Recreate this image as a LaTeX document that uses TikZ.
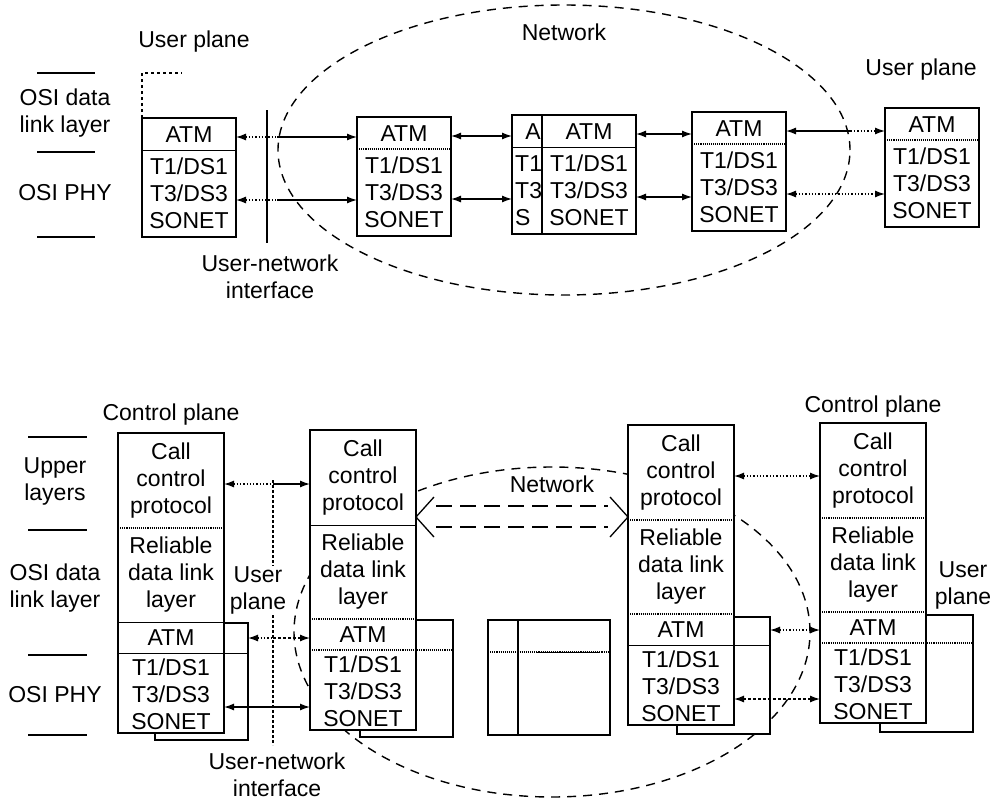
\documentclass[tikz,border=0pt]{standalone}
\usepackage{fontspec}
\setmainfont{Liberation Sans}
\usetikzlibrary{positioning, arrows.meta, shapes.geometric}

\begin{document}
\begin{tikzpicture}[
    x=1pt, y=-1pt,
    lbl/.style={font=\fontsize{23}{27}\selectfont, align=center, inner sep=0pt},
    box/.style={rectangle, draw, line width=1.8pt, fill=white, inner sep=0pt, outer sep=0pt, anchor=north west},
    cloud/.style={ellipse, draw, line width=1.4pt, dash pattern=on 9pt off 7pt, inner sep=0pt},
    netln/.style={line width=1.4pt, dash pattern=on 16pt off 8pt},
    rule/.style={line width=1.3pt},
    dv/.style={line width=1pt},
    dd/.style={line width=1.1pt, densely dotted},
    con/.style={line width=1.3pt},
    arr/.style={con, {Latex[length=10pt,width=7pt]}-{Latex[length=10pt,width=7pt]}},
    arrL/.style={con, {Latex[length=10pt,width=7pt]}-},
    arrR/.style={con, -{Latex[length=10pt,width=7pt]}}
]
\useasboundingbox (0,0) rectangle (999,806);

% user plane, top
\node[cloud, minimum width=572, minimum height=290] (netT) at (564,150) {};
\node[lbl] at ([yshift=-28]netT.north) {Network};
\node[lbl] at (194,42) {User plane};
\node[lbl] at (921,70) {User plane};

\foreach \yy in {73,152,237} \draw[rule] (37,\yy) -- (95,\yy);
\node[lbl] at (65,113) {OSI data\\link layer};
\node[lbl] at (65,193) {OSI PHY};

\node[box, minimum width=94, minimum height=119] (n2) at (512,115) {};
\node[lbl, anchor=east] (n2-atm) at ([xshift=29,yshift=-17]n2.north west) {A};
\node[lbl, anchor=north west, align=left] (n2-phy) at ([xshift=3,yshift=-40]n2.north west) {T1\\T3\\S};
\draw[dv] ([yshift=-32]n2.north west) -- ([yshift=-32]n2.north east);
\coordinate (n2-hi) at ([yshift=-19]n2.north);
\coordinate (n2-lo) at ([yshift=-82]n2.north);

\foreach \n/\x/\y/\ka in {u1/142/118/dv, n1/357/117/dd, n3/542/115/dv, n4/692/112/dd, u2/885/108/dd}{
    \node[box, minimum width=94, minimum height=119] (\n) at (\x,\y) {};
    \node[lbl] (\n-atm) at ([yshift=-17]\n.north) {ATM};
    \node[lbl] (\n-phy) at ([yshift=-75]\n.north) {T1/DS1\\T3/DS3\\SONET};
    \draw[\ka] ([yshift=-32]\n.north west) -- ([yshift=-32]\n.north east);
    \coordinate (\n-hi) at ([yshift=-19]\n.north);
    \coordinate (\n-lo) at ([yshift=-82]\n.north);
}
\draw[dashed, line width=1.2pt] (u1.north west) -- ++(0,-45) -- ++(40,0);

\coordinate (uniT) at (267,110);
\coordinate (uniB) at (267,243);
\draw[line width=1.6pt] (uniT) -- (uniB);
\node[lbl] (uniA) at (270,277) {User-network\\interface};

\draw[arrL, dotted] (u1-hi -| u1.east) -- (u1-hi -| netT.west);
\draw[arrR] (u1-hi -| netT.west) -- (u1-hi -| n1.west);
\draw[arrL, dotted] (u1-lo -| u1.east) -- (u1-lo -| netT.west);
\draw[arrR] (u1-lo -| netT.west) -- (u1-lo -| n1.west);
\draw[arr] (n1-hi -| n1.east) -- (n1-hi -| n2.west);
\draw[arr] (n1-lo -| n1.east) -- (n1-lo -| n2.west);
\draw[arr] (n3-hi -| n3.east) -- (n3-hi -| n4.west);
\draw[arr] (n3-lo -| n3.east) -- (n3-lo -| n4.west);
\draw[arrL] (n4-hi -| n4.east) -- (n4-hi -| netT.east);
\draw[arrR, dotted] (n4-hi -| netT.east) -- (n4-hi -| u2.west);
\draw[arr, dotted] (n4-lo -| n4.east) -- (n4-lo -| u2.west);

% control plane, bottom
\node[cloud, minimum width=516, minimum height=330] (netB) at (552,632) {};

\foreach \yy in {437,530,655,735} \draw[rule] (28,\yy) -- (87,\yy);
\node[lbl] at (55,481) {Upper\\layers};
\node[lbl] at (55,588) {OSI data\\link layer};
\node[lbl] at (55,695) {OSI PHY};

\coordinate (uniC) at (273,480);
\coordinate (uniD) at (273,745);
\draw[line width=1.2pt, densely dashed] (uniC) -- (uniD);
\node[lbl, fill=white] at (258,590) {User\\plane};
\node[lbl] at (277,775) {User-network\\interface};

\foreach \n/\x/\y in {a/155/623, b/360/620, c/677/617, d/880/615}
    \node[box, minimum width=93, minimum height=117] (\n-bk) at (\x,\y) {};

\node[box, minimum width=92, minimum height=115] (m1) at (488,620) {};
\node[box, minimum width=92, minimum height=115] (m2) at (518,620) {};
\draw[dd] ([yshift=-32]m1.north west) -- ([yshift=-32]m2.north east);
\draw[dv] ([xshift=18,yshift=-32]m2.north west) -- ([xshift=-10,yshift=-32]m2.north east);

\foreach \n/\x/\y/\ka/\kb/\kc in {a/118/433/dd/dv/dv, b/310/430/dv/dd/dd, c/628/425/dd/dd/dv, d/820/423/dd/dd/dd}{
    \node[box, minimum width=106, minimum height=300] (\n) at (\x,\y) {};
    \node[lbl] (\n-cc) at ([yshift=-48]\n.north) {Call\\control\\protocol};
    \node[lbl] (\n-dl) at ([yshift=-142]\n.north) {Reliable\\data link\\layer};
    \node[lbl] (\n-atm) at ([yshift=-205]\n.north) {ATM};
    \node[lbl] (\n-phy) at ([yshift=-261]\n.north) {T1/DS1\\T3/DS3\\SONET};
    \draw[\ka] ([yshift=-95]\n.north west) -- ([yshift=-95]\n.north east);
    \draw[\kb] ([yshift=-189]\n.north west) -- ([yshift=-189]\n.north east);
    \coordinate (\n-ap) at ([yshift=-220]\n.north west);
    \draw[\kc] (\n-ap) -- (\n-ap -| \n-bk.east);
    \coordinate (\n-hi) at ([yshift=-51]\n.north);
    \coordinate (\n-lo) at ([yshift=-274]\n.north);
}
\node[lbl, above=8pt of a] {Control plane};
\node[lbl, above=6pt of d] {Control plane};
\node[lbl] at (963,585) {User\\plane};

\node[lbl] at ([yshift=-18]netB.north) {Network};
\coordinate (netL) at ([yshift=-87]b.north east);
\coordinate (netR) at ([yshift=-92]c.north west);
\draw[netln] ([xshift=20,yshift=11]netL) -- ([xshift=-20,yshift=11]netR);
\draw[netln] ([xshift=20,yshift=-10]netL) -- ([xshift=-20,yshift=-10]netR);
\draw[con] ([xshift=18,yshift=20]netL) -- (netL) -- ([xshift=18,yshift=-20]netL);
\draw[con] ([xshift=-18,yshift=20]netR) -- (netR) -- ([xshift=-18,yshift=-20]netR);

\draw[arrL, dotted] (a-hi -| a.east) -- (a-hi -| uniC);
\draw[arrR] (a-hi -| uniC) -- (a-hi -| b.west);
\draw[arrL, dotted] (a-atm -| a-bk.east) -- (a-atm -| uniC);
\draw[arrR, densely dashed] (a-atm -| uniC) -- (a-atm -| b.west);
\draw[arr] (a-lo -| a.east) -- (a-lo -| b.west);
\draw[arr, dotted] (c-hi -| c.east) -- (c-hi -| d.west);
\draw[arr, dotted] (c-atm -| c-bk.east) -- (c-atm -| d.west);
\draw[arr, densely dashed] (c-lo -| c.east) -- (c-lo -| d.west);
\end{tikzpicture}
\end{document}
